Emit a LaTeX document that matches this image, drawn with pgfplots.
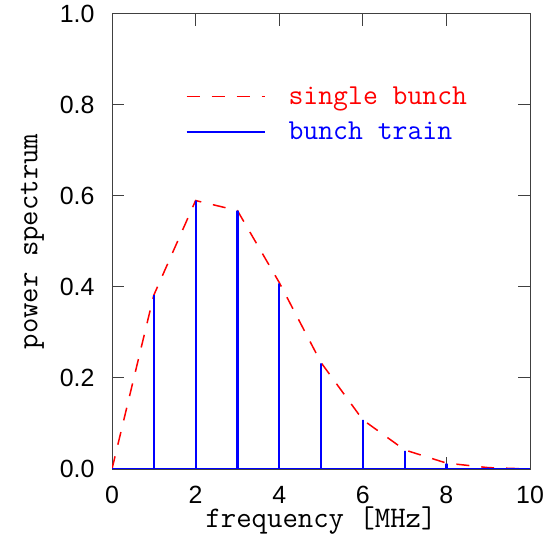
\documentclass[border=0pt]{standalone}
\usepackage{fontspec}
\setmainfont{Liberation Sans}
\usepackage{pgfplots}
\pgfplotsset{compat=1.18}
\definecolor{myred}{RGB}{255,0,0}
\definecolor{myblue}{RGB}{0,0,255}
\begin{document}
\begin{tikzpicture}
\path[use as bounding box] (0,0) rectangle (552bp,537bp);
\begin{axis}[
  at={(112bp,68bp)}, anchor=south west,
  scale only axis, width=418bp, height=455bp,
  xmin=0, xmax=10, ymin=0, ymax=1,
  xtick={0,2,...,10}, ytick={0,0.2,...,1.0},
  minor tick num=0,
  tick pos=both, tick align=inside,
  major tick length=12bp,
  axis line style={line width=1bp, black!75},
  every tick/.style={line width=1bp, black!75},
  /pgf/number format/assume math mode=true,
  /pgf/number format/.cd, fixed, fixed zerofill, precision=1, /pgfplots/.cd,
  xticklabel={\pgfmathprintnumber[fixed,precision=0]{\tick}},
  tick label style={font=\fontsize{25}{27}\selectfont},
  xticklabel style={inner sep=0pt, yshift=-17bp},
  yticklabel style={xshift=-14bp},
  xlabel={\ttfamily frequency [MHz]},
  ylabel={\ttfamily power spectrum},
  label style={font=\fontsize{30}{32}\selectfont},
  xlabel style={at={(axis description cs:0.5,0)}, anchor=base, inner sep=0pt, yshift=-58bp},
  ylabel style={yshift=9bp},
  legend style={draw=none, fill=none, at={(0.168,0.78)}, anchor=west,
    font=\ttfamily\fontsize{29}{31}\selectfont, row sep=12bp,
    /tikz/every odd column/.style={column sep=21bp}},
  legend cell align=left,
  legend image code/.code={\draw[#1] (0bp,0bp) -- (78bp,0bp);},
]
\addplot[myred, line width=1.5bp, dash pattern=on 13bp off 12bp] coordinates {
  (0,0) (1,0.382) (2,0.590) (3,0.568) (4,0.410) (5,0.234) (6,0.108) (7,0.042) (8,0.013) (9,0.003) (10,0.0)
};
\addlegendentry{\textcolor{myred}{single bunch}}
\addplot[myblue, line width=2.2bp] coordinates {
  (0,0) (1,0) (1,0.382) (1,0) (2,0) (2,0.590) (2,0) (3,0) (3,0.568) (3,0)
  (4,0) (4,0.408) (4,0) (5,0) (5,0.232) (5,0) (6,0) (6,0.108) (6,0)
  (7,0) (7,0.040) (7,0) (8,0) (8,0.012) (8,0) (9,0) (9,0.003) (9,0) (10,0)
};
\addlegendentry{\textcolor{myblue}{bunch train}}
\end{axis}
\end{tikzpicture}
\end{document}
